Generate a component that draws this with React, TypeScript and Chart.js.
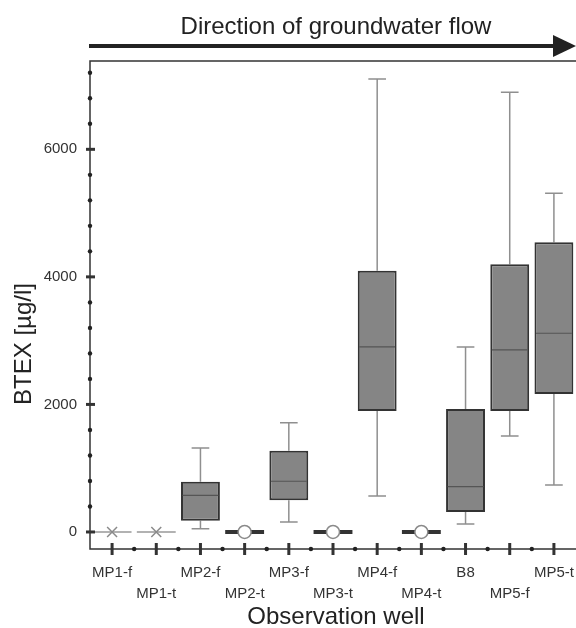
import React, { useEffect, useRef } from "react";
import { Chart, registerables } from "chart.js";

Chart.register(...registerables);

const categories = ["MP1-f", "MP1-t", "MP2-f", "MP2-t", "MP3-f", "MP3-t", "MP4-f", "MP4-t", "B8", "MP5-f", "MP5-t"];
const whiskerMin = [null, null, 52, null, 157, null, 564, null, 125, 1505, 737];
const q1 = [null, null, 177, null, 497, null, 1897, null, 314, 1897, 2164];
const median = [null, null, 575, null, 795, null, 2901, null, 710, 2854, 3116];
const q3 = [null, null, 789, null, 1275, null, 4097, null, 1929, 4198, 4543];
const whiskerMax = [null, null, 1317, null, 1714, null, 7103, null, 2901, 6894, 5311];
const zeroValue = [0, 0, null, 0, null, 0, null, 0, null, null, null];
const zeroMarker = ["crossRot", "crossRot", null, "circle", null, "circle", null, "circle", null, null, null];
const yTickValues = [0, 2000, 4000, 6000];
const yMinorValues = [400, 800, 1200, 1600, 2400, 2800, 3200, 3600, 4400, 4800, 5200, 5600, 6400, 6800, 7200];
const headerText = "Direction of groundwater flow";
const xTitle = "Observation well";
const yTitle = "BTEX [µg/l]";

const FONT = '"Liberation Sans", Arial, Helvetica, sans-serif';

const customPlugin = {
  id: "boxExtras",
  beforeDatasetsDraw(chart: any) {
    const { ctx, scales } = chart;
    const x = scales.x;
    const y = scales.y;
    const cw = x.getPixelForValue(1) - x.getPixelForValue(0);
    ctx.save();
    ctx.strokeStyle = "#8f8f8f";
    ctx.lineWidth = 1.5;
    for (let i = 0; i < categories.length; i++) {
      if (whiskerMax[i] == null) continue;
      const px = x.getPixelForValue(i);
      const half = cw * 0.2;
      ctx.beginPath();
      ctx.moveTo(px, y.getPixelForValue(q3[i]));
      ctx.lineTo(px, y.getPixelForValue(whiskerMax[i]));
      ctx.moveTo(px - half, y.getPixelForValue(whiskerMax[i]));
      ctx.lineTo(px + half, y.getPixelForValue(whiskerMax[i]));
      ctx.moveTo(px, y.getPixelForValue(q1[i]));
      ctx.lineTo(px, y.getPixelForValue(whiskerMin[i]));
      ctx.moveTo(px - half, y.getPixelForValue(whiskerMin[i]));
      ctx.lineTo(px + half, y.getPixelForValue(whiskerMin[i]));
      ctx.stroke();
    }
    for (let i = 0; i < categories.length; i++) {
      if (zeroValue[i] == null) continue;
      const px = x.getPixelForValue(i);
      const py = y.getPixelForValue(zeroValue[i]);
      const half = cw * 0.44;
      ctx.beginPath();
      if (zeroMarker[i] === "circle") {
        ctx.strokeStyle = "#333";
        ctx.lineWidth = 4;
      } else {
        ctx.strokeStyle = "#999";
        ctx.lineWidth = 1.5;
      }
      ctx.moveTo(px - half, py);
      ctx.lineTo(px + half, py);
      ctx.stroke();
    }
    ctx.restore();
  },
  afterDatasetsDraw(chart: any) {
    const { ctx, scales } = chart;
    const x = scales.x;
    const y = scales.y;
    const cw = x.getPixelForValue(1) - x.getPixelForValue(0);
    ctx.save();
    ctx.strokeStyle = "#555";
    ctx.lineWidth = 1.2;
    for (let i = 0; i < categories.length; i++) {
      if (median[i] == null) continue;
      const px = x.getPixelForValue(i);
      const py = y.getPixelForValue(median[i]);
      const half = cw * 0.44 - 1.5;
      ctx.beginPath();
      ctx.moveTo(px - half, py);
      ctx.lineTo(px + half, py);
      ctx.stroke();
    }
    ctx.restore();
  },
  afterDraw(chart: any) {
    const { ctx, chartArea: a, scales } = chart;
    const x = scales.x;
    const y = scales.y;
    ctx.save();
    ctx.strokeStyle = "#333";
    ctx.lineWidth = 1.5;
    ctx.beginPath();
    ctx.moveTo(a.right + 2, a.top);
    ctx.lineTo(a.left, a.top);
    ctx.lineTo(a.left, a.bottom);
    ctx.lineTo(a.right + 2, a.bottom);
    ctx.stroke();
    ctx.lineWidth = 3;
    for (const v of yTickValues) {
      const py = y.getPixelForValue(v);
      ctx.beginPath();
      ctx.moveTo(a.left - 4, py);
      ctx.lineTo(a.left + 5, py);
      ctx.stroke();
    }
    ctx.fillStyle = "#222";
    for (const v of yMinorValues) {
      const py = y.getPixelForValue(v);
      ctx.beginPath();
      ctx.arc(a.left, py, 2.2, 0, Math.PI * 2);
      ctx.fill();
    }
    ctx.lineWidth = 3;
    for (let i = 0; i < categories.length; i++) {
      const px = x.getPixelForValue(i);
      ctx.beginPath();
      ctx.moveTo(px, a.bottom - 6);
      ctx.lineTo(px, a.bottom + 6);
      ctx.stroke();
      if (i < categories.length - 1) {
        const mx = (x.getPixelForValue(i) + x.getPixelForValue(i + 1)) / 2;
        ctx.beginPath();
        ctx.arc(mx, a.bottom, 2.2, 0, Math.PI * 2);
        ctx.fill();
      }
    }
    ctx.fillStyle = "#222";
    ctx.font = `24px ${FONT}`;
    ctx.textAlign = "center";
    ctx.textBaseline = "middle";
    const cx = (a.left + a.right) / 2 + 3;
    ctx.fillText(headerText, cx, 27);
    ctx.strokeStyle = "#222";
    ctx.lineWidth = 4;
    ctx.beginPath();
    ctx.moveTo(a.left - 1, 46);
    ctx.lineTo(a.right - 20, 46);
    ctx.stroke();
    ctx.beginPath();
    ctx.moveTo(a.right - 23, 35);
    ctx.lineTo(a.right, 46);
    ctx.lineTo(a.right - 23, 57);
    ctx.closePath();
    ctx.fill();
    ctx.fillText(xTitle, cx, 617);
    ctx.save();
    ctx.translate(24, 344);
    ctx.rotate(-Math.PI / 2);
    ctx.fillText(yTitle, 0, 0);
    ctx.restore();
    ctx.restore();
  },
};

export default function App() {
  const ref = useRef<HTMLCanvasElement | null>(null);
  useEffect(() => {
    if (!ref.current) return;
    Chart.defaults.font.family = FONT;
    const boxData = categories.map((_, i) => (q1[i] == null ? null : [q1[i], q3[i]]));
    const chart = new Chart(ref.current, {
      type: "bar",
      data: {
        labels: categories.map((c, i) => (i % 2 === 0 ? c : ["", c])),
        datasets: [
          {
            type: "bar",
            data: boxData as any,
            backgroundColor: "#858585",
            borderColor: "#333",
            borderWidth: 2,
            borderSkipped: false,
            barPercentage: 0.88,
            categoryPercentage: 1,
          },
          {
            type: "line",
            data: zeroValue as any,
            showLine: false,
            clip: false,
            pointStyle: zeroMarker.map((m) => m || "circle") as any,
            pointRadius: zeroMarker.map((m) => (m === "circle" ? 6.5 : m ? 7 : 0)) as any,
            pointBorderColor: "#8a8a8a",
            pointBackgroundColor: "#ffffff",
            pointBorderWidth: 1.5,
          } as any,
        ],
      },
      options: {
        responsive: false,
        animation: false,
        devicePixelRatio: 1,
        layout: { autoPadding: false, padding: { top: 61, left: 0, right: 0, bottom: 0 } },
        plugins: { legend: { display: false }, tooltip: { enabled: false }, title: { display: false } },
        scales: {
          x: {
            type: "category",
            offset: true,
            grid: { display: false, drawTicks: false },
            border: { display: false },
            ticks: {
              autoSkip: false,
              maxRotation: 0,
              minRotation: 0,
              padding: 13.5,
              color: "#333",
              font: { size: 15, lineHeight: 1.4, family: FONT },
            },
            afterFit(scale: any) {
              scale.height = 79;
              scale.paddingLeft = 0;
              scale.paddingRight = 0;
            },
          },
          y: {
            type: "linear",
            min: -267,
            max: 7385,
            grid: { display: false, drawTicks: false },
            border: { display: false },
            afterBuildTicks(scale: any) {
              scale.ticks = yTickValues.map((v) => ({ value: v }));
            },
            ticks: {
              padding: 13,
              color: "#333",
              font: { size: 15, family: FONT },
              callback: (v: any) => String(v),
            },
            afterFit(scale: any) {
              scale.width = 90;
              scale.paddingTop = 0;
              scale.paddingBottom = 0;
            },
          },
        },
      },
      plugins: [customPlugin],
    });
    return () => chart.destroy();
  }, []);
  return (
    <div style={{ position: "absolute", left: 0, top: 0, width: 576, height: 628, background: "#fff" }}>
      <canvas ref={ref} width={576} height={628} style={{ width: 576, height: 628, display: "block" }} />
    </div>
  );
}
